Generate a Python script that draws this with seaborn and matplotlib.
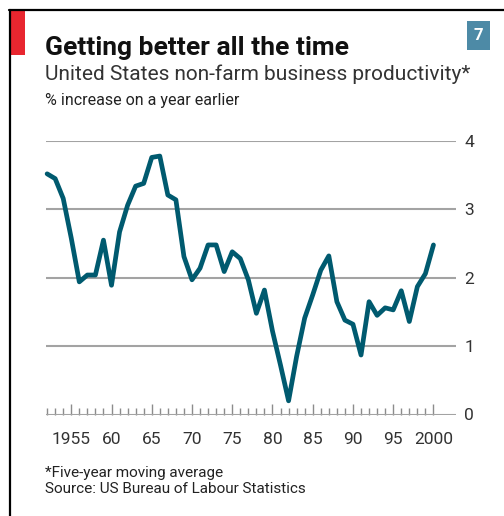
import matplotlib
matplotlib.use("Agg")
import matplotlib.pyplot as plt
import seaborn as sns
import pandas as pd
from matplotlib.patches import Rectangle
from matplotlib.lines import Line2D

years = list(range(1952, 2001))
values = [3.52, 3.45, 3.16, 2.58, 1.94, 2.04, 2.04, 2.55, 1.89, 2.67,
          3.06, 3.34, 3.38, 3.76, 3.78, 3.21, 3.14, 2.31, 1.97, 2.14,
          2.48, 2.48, 2.09, 2.38, 2.28, 1.97, 1.48, 1.82, 1.22, 0.72,
          0.2, 0.85, 1.41, 1.75, 2.11, 2.32, 1.65, 1.38, 1.32, 0.87,
          1.65, 1.45, 1.56, 1.53, 1.81, 1.36, 1.87, 2.06, 2.48]
major_years = [1955, 1960, 1965, 1970, 1975, 1980, 1985, 1990, 1995, 2000]
major_labels = ["1955", "60", "65", "70", "75", "80", "85", "90", "95", "2000"]
y_ticks = [0, 1, 2, 3, 4]
y_labels = ["0", "1", "2", "3", "4"]

title = "Getting better all the time"
subtitle = "United States non-farm business productivity*"
unit_note = "% increase on a year earlier"
footnote = "*Five-year moving average"
source = "Source: US Bureau of Labour Statistics"

sns.set_style("white")
plt.rcParams['font.family'] = ['Roboto', 'DejaVu Sans']

W, H = 504, 516
fig = plt.figure(figsize=(W / 100, H / 100), dpi=100)
fig.patch.set_facecolor("white")

ax = fig.add_axes([45.5 / W, 1 - 414.5 / H, (456 - 45.5) / W, (414.5 - 141) / H])
df = pd.DataFrame({"year": years, "value": values})
sns.lineplot(data=df, x="year", y="value", ax=ax, color="#005a6f",
             linewidth=3.4, clip_on=False, zorder=3)
ax.set_xlim(1951.8, 2002.8)
ax.set_ylim(0, 4)
ax.set_xlabel("")
ax.set_ylabel("")
for s in ax.spines.values():
    s.set_visible(False)

ax.set_yticks(y_ticks)
ax.set_yticklabels(y_labels)
ax.yaxis.tick_right()
ax.grid(axis="y", color="#a3a3a3", linewidth=1.5)
ax.grid(axis="x", visible=False)
ax.set_axisbelow(True)
ax.tick_params(axis="y", length=0, pad=6, labelsize=12.5, labelcolor="#333333")

ax.set_xticks(major_years)
ax.set_xticklabels(major_labels)
ax.set_xticks(years, minor=True)
ax.tick_params(axis="x", which="major", direction="in", length=8, width=1,
               color="#8c8c8c", pad=12.5, labelsize=12.5, labelcolor="#333333",
               bottom=True)
ax.tick_params(axis="x", which="minor", direction="in", length=5, width=1,
               color="#8c8c8c", bottom=True)

# frame lines
fig.add_artist(Line2D([9.5 / W, 9.5 / W], [0, 1 - 9.5 / H], color="black", lw=1.6,
                      transform=fig.transFigure))
fig.add_artist(Line2D([8.7 / W, 1], [1 - 9.5 / H, 1 - 9.5 / H], color="black", lw=1.6,
                      transform=fig.transFigure))
# red tag
fig.add_artist(Rectangle((10.5 / W, 1 - 55 / H), 14.5 / W, 44.5 / H,
                         facecolor="#e8262f", edgecolor="none", transform=fig.transFigure))
# number box
fig.add_artist(Rectangle((467 / W, 1 - 50 / H), 23 / W, 29 / H,
                         facecolor="#4d8aa6", edgecolor="none", transform=fig.transFigure))
fig.text(478.5 / W, 1 - 35.5 / H, "7", color="white", fontsize=12, fontweight="bold",
         ha="center", va="center")

fig.text(45 / W, 1 - 55 / H, title, fontsize=19, fontweight="bold", color="#111111",
         va="baseline", ha="left")
fig.text(45 / W, 1 - 80 / H, subtitle, fontsize=15, color="#333333",
         va="baseline", ha="left")
fig.text(45 / W, 1 - 105 / H, unit_note, fontsize=11.5, color="#222222",
         va="baseline", ha="left")
fig.text(45 / W, 1 - 477 / H, footnote, fontsize=11, color="#222222",
         va="baseline", ha="left")
fig.text(45 / W, 1 - 493 / H, source, fontsize=11, color="#222222",
         va="baseline", ha="left")

fig.savefig("out.png", dpi=100, facecolor="white")
